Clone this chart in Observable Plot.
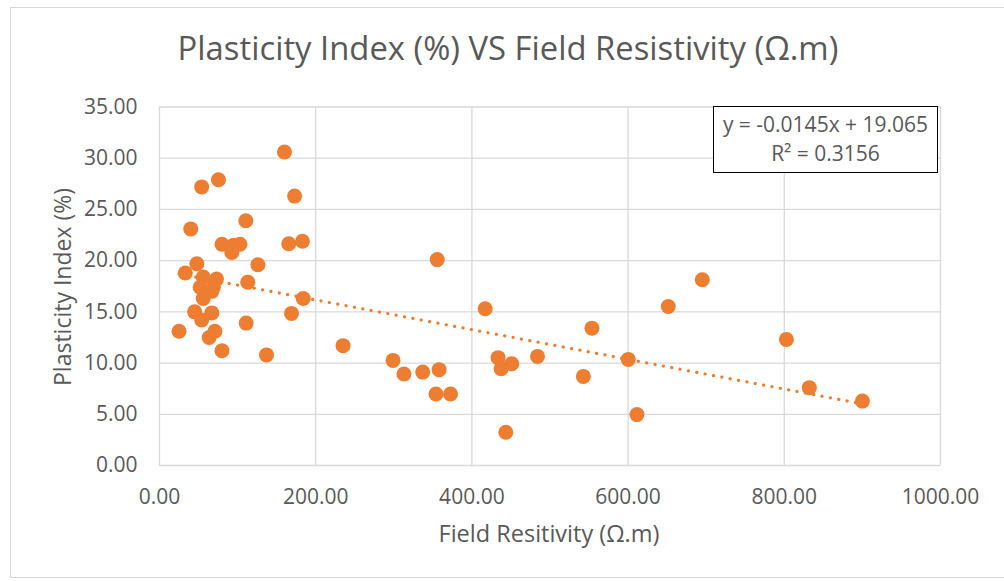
<!DOCTYPE html>
<html>
<head>
<meta charset="utf-8">
<script src="https://cdn.jsdelivr.net/npm/d3@7"></script>
<script src="https://cdn.jsdelivr.net/npm/@observablehq/plot@0.6"></script>
<style>
  html, body { margin: 0; padding: 0; background: #fff; }
  #wrap { position: relative; width: 1004px; height: 581px; overflow: hidden; font-family: "Open Sans", sans-serif; color: #595959; }
  #border { position: absolute; left: 10px; top: 7px; width: 1010px; height: 571px; border: 1px solid #d9d9d9; box-sizing: border-box; }
  #chart { position: absolute; left: 0; top: 0; }
  .t { position: absolute; white-space: nowrap; line-height: 1; }
  #title { left: 508px; top: 32px; transform: translateX(-50%); font-size: 32.8px; }
  #xlabel { left: 549px; top: 522px; transform: translateX(-50%); font-size: 23.5px; }
  #ylabel { left: 62px; top: 287px; transform: translate(-50%, -50%) rotate(-90deg); font-size: 23px; }
  #eq { position: absolute; left: 713px; top: 106px; width: 225px; height: 67px; border: 1.5px solid #000; background: #fff; box-sizing: border-box; text-align: center; font-size: 21px; line-height: 29px; padding-top: 3px; }
</style>
</head>
<body>
<div id="wrap">
  <div id="border"></div>
  <div id="chart"></div>
  <div class="t" id="title">Plasticity Index (%) VS Field Resistivity (Ω.m)</div>
  <div class="t" id="xlabel">Field Resitivity (Ω.m)</div>
  <div class="t" id="ylabel">Plasticity Index (%)</div>
  <div id="eq">y = -0.0145x + 19.065<br>R² = 0.3156</div>
</div>
<script>
// Field resistivity (Ω.m)
const resistivity = [
  160, 54, 75.5, 173, 40, 110.5, 80, 94.7, 103, 92.6,
  165.5, 183, 47.8, 33, 126, 56, 73, 52, 69, 56,
  67, 113, 184, 45, 67, 54, 169, 25, 71, 63.6,
  111, 80, 137, 235, 355.6, 417, 299, 313, 337, 358,
  354, 372.6, 433.5, 437.4, 451, 484, 443.4, 553.7, 542.7, 600.2,
  611.3, 695, 651.4, 802.7, 832, 900
];
// Plasticity index (%)
const plasticity = [
  30.6, 27.2, 27.9, 26.3, 23.1, 23.9, 21.6, 21.5, 21.6, 20.8,
  21.65, 21.9, 19.7, 18.8, 19.6, 18.4, 18.2, 17.4, 17.4, 16.3,
  17.0, 17.9, 16.3, 15.0, 14.9, 14.2, 14.85, 13.1, 13.1, 12.5,
  13.9, 11.2, 10.8, 11.7, 20.1, 15.3, 10.26, 8.93, 9.12, 9.36,
  6.98, 6.98, 10.53, 9.45, 9.94, 10.65, 3.24, 13.41, 8.7, 10.36,
  4.97, 18.14, 15.53, 12.31, 7.6, 6.29
];
const xTicks = [0, 200, 400, 600, 800, 1000];
const yTicks = [0, 5, 10, 15, 20, 25, 30, 35];
// Linear trendline: y = slope * x + intercept
const slope = -0.0145;
const intercept = 19.065;

const data = resistivity.map((x, i) => ({x, y: plasticity[i]}));
const xExt = d3.extent(resistivity);
const trend = xExt.map(x => ({x, y: slope * x + intercept}));

const chart = Plot.plot({
  width: 1004,
  height: 581,
  marginLeft: 159,
  marginRight: 64,
  marginTop: 106.5,
  marginBottom: 116,
  style: {fontFamily: "Open Sans, sans-serif", color: "#595959", background: "transparent"},
  x: {domain: [0, 1000], label: null},
  y: {domain: [0, 35], label: null},
  marks: [
    Plot.gridX(xTicks, {stroke: "#d9d9d9", strokeOpacity: 1, strokeWidth: 1.3}),
    Plot.gridY(yTicks, {stroke: "#d9d9d9", strokeOpacity: 1, strokeWidth: 1.3}),
    Plot.axisX(xTicks, {tickSize: 0, tickPadding: 24, fontSize: 21, tickFormat: d => d.toFixed(2), label: null, fill: "#595959"}),
    Plot.axisY(yTicks, {tickSize: 0, tickPadding: 22, fontSize: 21, tickFormat: d => d.toFixed(2), label: null, fill: "#595959"}),
    Plot.line(trend, {x: "x", y: "y", stroke: "#ED7D31", strokeWidth: 3.2, strokeDasharray: "0.1,8.4", strokeLinecap: "round"}),
    Plot.dot(data, {x: "x", y: "y", r: 7.5, fill: "#ED7D31", stroke: "none"})
  ]
});
document.getElementById("chart").appendChild(chart);
</script>
</body>
</html>
